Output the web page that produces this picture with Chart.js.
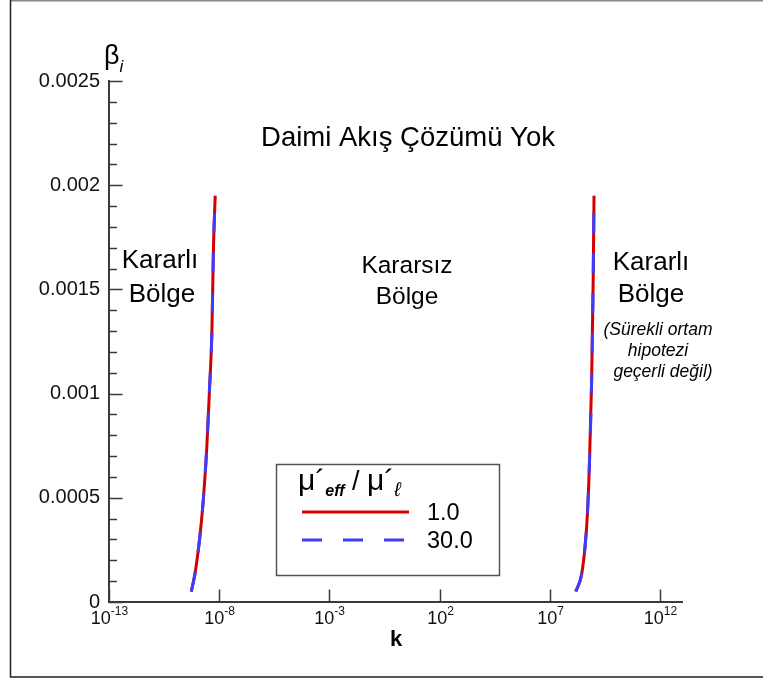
<!DOCTYPE html>
<html>
<head>
<meta charset="utf-8">
<script src="https://cdn.jsdelivr.net/npm/chart.js@4.4.0/dist/chart.umd.min.js"></script>
<style>
    html, body { margin: 0; padding: 0; background: #fff; }
    #wrap { width: 763px; height: 679px; }
</style>
</head>
<body>
<div id="wrap"><canvas id="betaChart" width="763" height="679"></canvas></div>
<script>
// beta_i vs k, two stability boundaries (low k / high k)
const kLow = [5.4e-10, 8.1e-10, 1.38e-9, 1.95e-9, 2.75e-9, 3.63e-9, 4.68e-9, 5.5e-9, 6.6e-9];
const betaLow_r1 = [0.00005, 0.00014, 0.00033, 0.000505, 0.000745, 0.00102, 0.0013, 0.0017, 0.00195];
const betaLow_r30 = [0.00005, 0.00014, 0.00033, 0.000505, 0.000745, 0.00102, 0.0013, 0.0017, 0.00195];

const kHigh = [1.51e8, 2.75e8, 3.98e8, 5.13e8, 6.31e8, 7.94e8, 9.33e8, 1.02e9];
const betaHigh_r1 = [0.00005, 0.00013, 0.000265, 0.000426, 0.000666, 0.001065, 0.001545, 0.00195];
const betaHigh_r30 = [0.00005, 0.00013, 0.000265, 0.000426, 0.000666, 0.001065, 0.001545, 0.00195];

const seriesLabels = ['1.0', '30.0'];
const xTickExps = [-13, -8, -3, 2, 7, 12];
const yTicks = [0, 0.0005, 0.001, 0.0015, 0.002, 0.0025];

const FONT = '"Liberation Sans", Arial, Helvetica, sans-serif';
const RED = '#d40000';
const BLUE = '#3c3cff';
const AXIS = '#3a3a3a';

const toPoints = (xs, ys) => xs.map((x, i) => ({ x: x, y: ys[i] }));

function curve(label, xs, ys, color, dash, order) {
    return {
        label: label,
        data: toPoints(xs, ys),
        borderColor: color,
        backgroundColor: color,
        borderWidth: 3,
        borderDash: dash,
        borderCapStyle: 'butt',
        pointRadius: 0,
        fill: false,
        cubicInterpolationMode: 'monotone',
        order: order
    };
}

// frame, inward ticks, x labels with exponents, annotations and legend box
const decorations = {
    id: 'decorations',
    beforeDraw(chart) {
        const ctx = chart.ctx;
        ctx.save();
        ctx.fillStyle = '#fff';
        ctx.fillRect(0, 0, chart.width, chart.height);
        ctx.lineWidth = 1.5;
        ctx.strokeStyle = '#8a8a8a';
        ctx.beginPath(); ctx.moveTo(10, 0.75); ctx.lineTo(chart.width, 0.75); ctx.stroke();
        ctx.strokeStyle = '#222';
        ctx.beginPath(); ctx.moveTo(10.5, 0); ctx.lineTo(10.5, 677); ctx.lineTo(chart.width, 677); ctx.stroke();
        ctx.restore();
    },
    afterDraw(chart) {
        const ctx = chart.ctx;
        const xs = chart.scales.x, ys = chart.scales.y;
        const area = chart.chartArea;
        ctx.save();

        // y ticks (inward)
        ctx.strokeStyle = AXIS;
        ctx.lineWidth = 1.5;
        for (let i = 0; i <= 25; i++) {
            const py = Math.round(ys.getPixelForValue(i * 0.0001)) + 0.5;
            const len = i % 5 === 0 ? 13.5 : 8;
            ctx.beginPath(); ctx.moveTo(area.left, py); ctx.lineTo(area.left + len, py); ctx.stroke();
        }
        // x ticks (inward) + labels
        xTickExps.forEach(e => {
            const px = Math.round(xs.getPixelForValue(Math.pow(10, e))) + 0.5;
            ctx.beginPath(); ctx.moveTo(px, area.bottom); ctx.lineTo(px, area.bottom - 12.5); ctx.stroke();

            ctx.fillStyle = '#111';
            ctx.textBaseline = 'alphabetic';
            ctx.textAlign = 'left';
            ctx.font = '18px ' + FONT;
            const wBase = ctx.measureText('10').width;
            ctx.font = '12px ' + FONT;
            const wExp = ctx.measureText(String(e)).width;
            const x0 = px - (wBase + wExp) / 2;
            ctx.font = '18px ' + FONT;
            ctx.fillText('10', x0, 624);
            ctx.font = '12px ' + FONT;
            ctx.fillText(String(e), x0 + wBase, 615);
        });

        // axis titles
        ctx.fillStyle = '#000';
        ctx.textAlign = 'left';
        ctx.font = '27px ' + FONT;
        ctx.fillText('β', 104, 64);
        const wb = ctx.measureText('β').width;
        ctx.font = 'italic 17px ' + FONT;
        ctx.fillText('i', 104 + wb, 72);

        ctx.textAlign = 'center';
        ctx.font = 'bold 22px ' + FONT;
        ctx.fillText('k', 396, 646);

        // region annotations
        ctx.font = '27.5px ' + FONT;
        ctx.fillText('Daimi Akış Çözümü Yok', 408, 146);
        ctx.font = '26px ' + FONT;
        ctx.fillText('Kararlı', 160, 268);
        ctx.fillText('Bölge', 162, 302);
        ctx.fillText('Kararlı', 651, 270);
        ctx.fillText('Bölge', 651, 302);
        ctx.font = '24.5px ' + FONT;
        ctx.fillText('Kararsız', 407, 273);
        ctx.fillText('Bölge', 407, 304);
        ctx.font = 'italic 17.5px ' + FONT;
        ctx.fillText('(Sürekli ortam', 658, 335);
        ctx.fillText('hipotezi', 658, 356);
        ctx.fillText('geçerli değil)', 663, 377);

        // legend box
        ctx.strokeStyle = '#555';
        ctx.lineWidth = 1.5;
        ctx.strokeRect(276.5, 464.5, 223, 111);

        // legend title  mu'_eff / mu'_l
        ctx.textAlign = 'left';
        let x = 298;
        const seg = (txt, font, dy) => {
            ctx.font = font;
            ctx.fillText(txt, x, 490 + dy);
            x += ctx.measureText(txt).width;
        };
        seg('μ´', '30px ' + FONT, 0);
        seg('eff', 'italic bold 16px ' + FONT, 6);
        seg(' / ', '27px ' + FONT, 0);
        seg('μ´', '30px ' + FONT, 0);
        seg('ℓ', 'italic 20px ' + FONT, 6);

        // legend samples
        ctx.lineWidth = 3;
        ctx.strokeStyle = RED;
        ctx.setLineDash([]);
        ctx.beginPath(); ctx.moveTo(302, 512); ctx.lineTo(409, 512); ctx.stroke();
        ctx.strokeStyle = BLUE;
        ctx.setLineDash([20, 21]);
        ctx.beginPath(); ctx.moveTo(302, 540); ctx.lineTo(404, 540); ctx.stroke();
        ctx.setLineDash([]);
        ctx.fillStyle = '#000';
        ctx.font = '23.5px ' + FONT;
        ctx.fillText(seriesLabels[0], 427, 520);
        ctx.fillText(seriesLabels[1], 427, 548);

        ctx.restore();
    }
};

new Chart(document.getElementById('betaChart').getContext('2d'), {
    type: 'line',
    data: {
        datasets: [
            curve(seriesLabels[0], kLow, betaLow_r1, RED, [], 2),
            curve(seriesLabels[0], kHigh, betaHigh_r1, RED, [], 2),
            curve(seriesLabels[1], kLow, betaLow_r30, BLUE, [20, 20], 1),
            curve(seriesLabels[1], kHigh, betaHigh_r30, BLUE, [20, 20], 1)
        ]
    },
    options: {
        responsive: false,
        animation: false,
        layout: { padding: { left: 0, top: 81, right: 81, bottom: 0 } },
        plugins: {
            legend: { display: false },
            tooltip: { enabled: false }
        },
        scales: {
            x: {
                type: 'logarithmic',
                min: 1e-13,
                max: 1e13,
                afterBuildTicks: (s) => { s.ticks = xTickExps.map(e => ({ value: Math.pow(10, e) })); },
                afterFit: (s) => { s.height = 77; },
                ticks: { display: false },
                grid: { display: false, drawTicks: false },
                border: { display: true, color: AXIS, width: 2 }
            },
            y: {
                type: 'linear',
                min: 0,
                max: 0.0025,
                afterBuildTicks: (s) => { s.ticks = yTicks.map(v => ({ value: v })); },
                afterFit: (s) => { s.width = 109; },
                ticks: {
                    padding: 9,
                    color: '#111',
                    font: { family: FONT, size: 20 },
                    callback: (v) => String(+Number(v).toFixed(4))
                },
                grid: { display: false, drawTicks: false },
                border: { display: true, color: AXIS, width: 2 }
            }
        }
    },
    plugins: [decorations]
});
</script>
</body>
</html>
